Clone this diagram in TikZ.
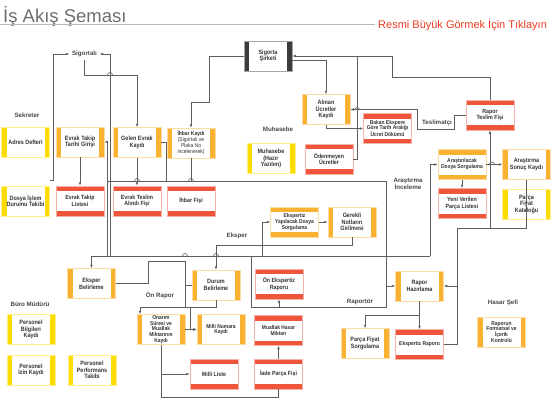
\documentclass[tikz,border=0pt]{standalone}
\usepackage{fontspec}
\setmainfont{Liberation Sans}
\newfontfamily\boxfont[FakeStretch=0.88]{Liberation Sans}
\usetikzlibrary{arrows.meta}

\definecolor{yel}{HTML}{FFDC00}
\definecolor{ora}{HTML}{F8B132}
\definecolor{redb}{HTML}{EE553B}
\definecolor{darkb}{HTML}{3C3C3C}
\definecolor{linec}{HTML}{5E5E5E}
\definecolor{txt}{HTML}{333333}
\definecolor{titlegray}{HTML}{6E6E6E}
\definecolor{linkred}{HTML}{EA3A1E}

\begin{document}
\begin{tikzpicture}[x=1pt,y=-1pt,>={Latex[length=3.5pt,width=2.6pt]},
 side/.style={draw=#1!45,fill=white,line width=.5pt,minimum width=48pt,minimum height=30pt,
   inner sep=0pt,align=center,text=txt,font=\boxfont\bfseries\fontsize{6.2}{6.7}\selectfont,
   path picture={\fill[#1] (path picture bounding box.north west) rectangle ([xshift=5pt]path picture bounding box.south west);
     \fill[#1] (path picture bounding box.north east) rectangle ([xshift=-5pt]path picture bounding box.south east);}},
 band/.style={draw=#1!45,fill=white,line width=.5pt,minimum width=48pt,minimum height=30pt,
   inner sep=0pt,align=center,text=txt,font=\boxfont\bfseries\fontsize{6}{6.5}\selectfont,
   path picture={\fill[#1] (path picture bounding box.north west) rectangle ([yshift=-5pt]path picture bounding box.north east);
     \fill[#1] (path picture bounding box.south west) rectangle ([yshift=5pt]path picture bounding box.south east);}},
 ybox/.style={side=yel},obox/.style={side=ora},dbox/.style={side=darkb,draw=gray!70},
 rbox/.style={band=redb},oband/.style={band=ora},
 small/.style={font=\boxfont\bfseries\fontsize{5.6}{5.9}\selectfont},
 lbl/.style={font=\bfseries\fontsize{6.2}{7.2}\selectfont,text=txt!90,inner sep=0pt,align=center},
 ln/.style={draw=linec,line width=.6pt},arr/.style={ln,->}]
\useasboundingbox (0,0) rectangle (554,400);

% title
\node[anchor=base west,inner sep=0pt,font=\fontsize{18.5}{18.5}\selectfont,text=titlegray] (baslik) at (3,22) {İş Akış Şeması};
\draw[gray!55,line width=.6pt] (0,24) -- (375,24);
\node[anchor=west,inner sep=0pt,font=\fontsize{11}{11}\selectfont,text=linkred] (link) at (378,24.5) {Resmi Büyük Görmek İçin Tıklayın};

% labels
\node[lbl,inner sep=2.5pt] (sigortali) at (84.5,54) {Sigortalı};
\node[lbl] (sekreter) at (27,115) {Sekreter};
\node[lbl] (muhlbl) at (278,129) {Muhasebe};
\node[lbl] (teslimatci) at (437,123) {Teslimatçı};
\node[lbl] (arslbl) at (408,184) {Araştırma\\İnceleme};
\node[lbl] (eksperlbl) at (237,236) {Eksper};
\node[lbl] (onrapor) at (160,295) {Ön Rapor};
\node[lbl] (buro) at (30,304) {Büro Müdürü};
\node[lbl] (raportor) at (360,302) {Raportör};
\node[lbl] (hasar) at (503,303) {Hasar Şefi};

% boxes
\node[ybox] (adres) at (25.5,142) {Adres Defteri};
\node[obox] (takiptarih) at (80,142) {Evrak Takip\\Tarihi Girişi};
\node[obox] (gelen) at (137,142.5) {Gelen Evrak\\Kaydı};
\node[obox,small] (ihbar) at (191,143) {İhbar Kaydı\\\mdseries(Sigortalı ve\\\mdseries Plaka No\\\mdseries incelenerek)};
\node[ybox] (dosya) at (25.5,201) {Dosya İşlem\\Durumu Takibi};
\node[rbox] (takiplist) at (80,201) {Evrak Takip\\Listesi};
\node[rbox] (teslimfis) at (137,201) {Evrak Teslim\\Alındı Fişi};
\node[rbox] (ihbarfis) at (191,201) {İhbar Fişi};
\node[dbox] (sirket) at (268,56) {Sigorta\\Şirketi};
\node[obox] (alinan) at (326,109.5) {Alınan\\Ücretler\\Kaydı};
\node[ybox] (muhasebe) at (271,158.5) {Muhasebe\\(Hazır\\Yazılım)};
\node[rbox] (odenmeyen) at (329,159) {Ödenmeyen\\Ücretler};
\node[rbox,small] (bakan) at (387.5,128.5) {Bakan Ekspere\\Göre Tarih Aralığı\\Ücret Dökümü};
\node[rbox] (raporteslim) at (490,115) {Rapor\\Teslim Fişi};
\node[oband,small] (arastir) at (462,164.5) {Araştırılacak\\Dosya Sorgulama};
\node[obox] (sonuc) at (526.5,164.5) {Araştırma\\Sonuç Kaydı};
\node[rbox] (yeniparca) at (462,203.5) {Yeni Verilen\\Parça Listesi};
\node[ybox] (katalog) at (526.5,204.5) {Parça\\Fiyat\\Kataloğu};
\node[oband,small] (eksdosya) at (294.5,222) {Ekspertiz\\Yapılacak Dosya\\Sorgulama};
\node[obox] (gerekli) at (352,222) {Gerekli\\Notların\\Girilmesi};
\node[obox] (eksperbel) at (91.5,283.5) {Eksper\\Belirleme};
\node[obox] (durum) at (216,285) {Durum\\Belirleme};
\node[rbox] (onekspertiz) at (279,284) {Ön Ekspertiz\\Raporu};
\node[obox] (raporhaz) at (419.5,286) {Rapor\\Hazırlama};
\node[obox] (parcasorgu) at (365,343.5) {Parça Fiyat\\Sorgulama};
\node[rbox,small] (eksrapor) at (419.5,344.5) {Ekspertiz Raporu};
\node[obox,small] (formatsal) at (501.5,332) {Raporun\\Formatsal ve\\İçerik\\Kontrolü};
\node[ybox] (perbilgi) at (31,329.5) {Personel\\Bilgileri\\Kaydı};
\node[ybox] (perizin) at (31,370) {Personel\\İzin Kaydı};
\node[ybox] (perperf) at (92,370) {Personel\\Performans\\Takibi};
\node[obox,font=\boxfont\bfseries\fontsize{5.6}{5.6}\selectfont] (onarim) at (161,329.5) {Onarım\\Süresi ve\\Muallak\\Miktarının\\Kaydı};
\node[obox,small] (millinumara) at (221,329.5) {Milli Numara\\Kaydı};
\node[rbox,small] (muallak) at (278.5,330.5) {Muallak Hasar\\Miktarı};
\node[rbox] (milliliste) at (214,374) {Milli Liste};
\node[rbox] (iade) at (278.5,374) {İade Parça Fişi};

% bus coordinates
\coordinate (bt) at (107,181);
\coordinate (bm) at (107,256);
\coordinate (rp) at (0,307);
\coordinate (ye) at (0,245);
\coordinate (yb) at (0,397);
\coordinate (oa) at ([xshift=-21pt]onarim.north);

% sekreter
\draw[arr] ([yshift=5pt]dosya.north east) -| (53,54) -- (sigortali.west);
\draw[arr] (110,256) -- (110,54) -- (sigortali.east);
\draw[arr] (sigortali.south) |- (137,75) -- (gelen.north);
\draw[arr] (bm) |- (takiptarih.east);
\draw[ln] (bm) -- (430,256);
\draw[ln] (bt) -- (386,181);
\draw[arr] (takiptarih) -- (takiplist);
\draw[arr] (gelen) -- (teslimfis);
\draw[ln] (gelen.east) -| (166,181);
\draw[ln] (ihbar.south) -- (ihbar.south |- bt);
\draw[arr] (sirket.west) -| (209,102) -| (ihbar.north);

% muhasebe
\draw[arr] ([yshift=-4pt]sirket.east) -| (alinan.north);
\draw[arr] (raporteslim.north) |- (392,77) |- (sirket.east);
\draw[ln] (odenmeyen.east) -| (357,56);
\draw[arr] (alinan.south) |- (bakan.west);
\draw[arr] (raporteslim.west) -- ++(-11,0) |- (417,129) |- (alinan.east);

% arastirma
\draw[arr] (arastir) -- (sonuc);
\draw[arr] (arastir) -- (yeniparca);
\draw[arr] (430,256) |- (arastir.west);
\draw[arr] (sonuc.south) |- (457,228) |- (raporhaz.east);
\draw[arr] (eksrapor.east) -| (457,228) -| (raporteslim.south);

% raportor
\draw[arr] (raporhaz.south) -- (eksrapor.north);
\draw[arr] (raporhaz.south) ++(0,14) -| (parcasorgu.north);
\draw[arr] (386,181) |- (raporhaz.west);
\draw[ln] (386,286) |- (251,307) -- (251,256);
\draw[arr] (onekspertiz.south |- rp) -- (onekspertiz.south);

% eksper
\draw[arr] (bm) -| (eksperbel.north);
\draw[ln] (eksperbel.east) -| (148,261) -| (185,307);
\draw[ln] (185,285) -- (durum.west);
\draw[arr] (gerekli.south) |- (durum.north |- ye) -- (durum.north);
\draw[arr] (262,256) |- (eksdosya.west);
\draw[arr] (eksdosya) -- (gerekli);

% on rapor
\draw[arr] (durum.south) |- (oa |- rp) -- (oa);
\draw[arr] (190,307) |- (millinumara.west);
\draw[arr] (onarim.east) -- (millinumara.west);
\draw[arr] (onarim.south) |- (milliliste.west);
\draw[ln] (onarim.south) |- (iade.south |- yb) -- (iade.south);
\draw[arr] (iade) -- (muallak);

% line hops
\foreach \hx/\hy in {110/75,137/181,191/181,185/256,216/256,492/164.5,357/110}
  \draw[ln] (\hx-2.5,\hy) arc (180:0:2.5pt);
\end{tikzpicture}
\end{document}
